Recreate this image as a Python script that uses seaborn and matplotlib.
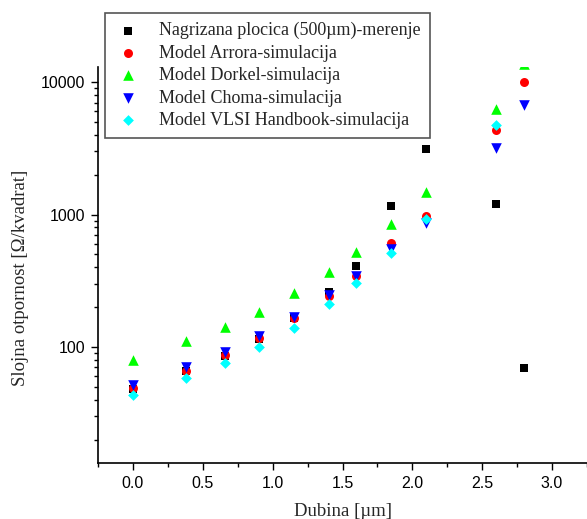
import numpy as np
import pandas as pd
import matplotlib
matplotlib.use('Agg')
import matplotlib.pyplot as plt
import matplotlib.ticker as mticker
import seaborn as sns

# Podaci (ocitani sa slike)
dubina = [0.0, 0.38, 0.66, 0.9, 1.15, 1.4, 1.6, 1.85, 2.1, 2.6, 2.8]
merenje = [48, 66, 86, 115, 165, 262, 411, 1165, 3100, 1200, 69]
arrora = [48.8, 66, 87, 116, 165, 244, 343, 607, 979, 4350, 9950]
dorkel = [80, 110, 142, 185, 257, 370, 523, 847, 1470, 6300, 13600]
choma = [51.7, 70, 92, 121, 169, 247, 343, 550, 858, 3160, 6700]
vlsi = [43.5, 58, 76, 99.5, 140, 210, 302, 509, 918, 4730, np.nan]

serije = [
    ('Nagrizana plocica (500\u00b5m)-merenje', merenje, 's', 'black', 30),
    ('Model Arrora-simulacija', arrora, 'o', 'red', 42),
    ('Model Dorkel-simulacija', dorkel, '^', '#00ff00', 58),
    ('Model Choma-simulacija', choma, 'v', 'blue', 58),
    ('Model VLSI Handbook-simulacija', vlsi, 'D', 'cyan', 30),
]

sns.set_style('ticks')
plt.rcParams['font.family'] = ['Liberation Sans', 'DejaVu Sans']

fig = plt.figure(figsize=(5.87, 5.19), dpi=100)
ax = fig.add_axes([98 / 587, 1 - 463 / 519, 1 - 98 / 587, (463 - 67) / 519])

for naziv, vrednosti, marker, boja, velicina in serije:
    df = pd.DataFrame({'x': dubina, 'y': vrednosti}).dropna()
    sns.scatterplot(data=df, x='x', y='y', ax=ax, marker=marker, color=boja,
                    s=velicina, linewidth=0, label=naziv, legend=True)

ax.set_yscale('log')
ax.set_xlim(-0.25, 3.25)
ax.set_ylim(13.3, 13000)

ax.set_xticks([0.0, 0.5, 1.0, 1.5, 2.0, 2.5, 3.0])
ax.xaxis.set_minor_locator(mticker.MultipleLocator(0.25))
ax.xaxis.set_major_formatter(mticker.FormatStrFormatter('%.1f'))
ax.set_yticks([100, 1000, 10000])
ax.yaxis.set_major_formatter(mticker.FixedFormatter(['100', '1000', '10000']))
ax.yaxis.set_minor_locator(mticker.LogLocator(base=10, subs=np.arange(2, 10)))
ax.yaxis.set_minor_formatter(mticker.NullFormatter())

ax.tick_params(which='major', length=5, width=1, labelsize=11.5, pad=4,
               color='black', labelcolor='black')
ax.tick_params(which='minor', length=3, width=1, color='black')
for s in ['left', 'bottom']:
    ax.spines[s].set_linewidth(1.2)
    ax.spines[s].set_color('black')
sns.despine(ax=ax)

ax.set_xlabel('Dubina [\u00b5m]', family='Liberation Serif', fontsize=13.5, labelpad=9)
ax.set_ylabel('Slojna otpornost [\u03a9/kvadrat]', family='Liberation Serif', fontsize=13.5, labelpad=9)
ax.yaxis.label.set_y(0.467)

leg = ax.legend(loc='upper left', bbox_to_anchor=(105 / 587, 1 - 13 / 519),
                bbox_transform=fig.transFigure, borderaxespad=0, frameon=True,
                fancybox=False, framealpha=1, edgecolor='#555555',
                prop={'family': 'Liberation Serif', 'size': 13},
                handletextpad=1.0, labelspacing=0.3, borderpad=0.5,
                handlelength=1.5)
leg.get_frame().set_linewidth(1.2)

fig.savefig('out.png', dpi=100)
